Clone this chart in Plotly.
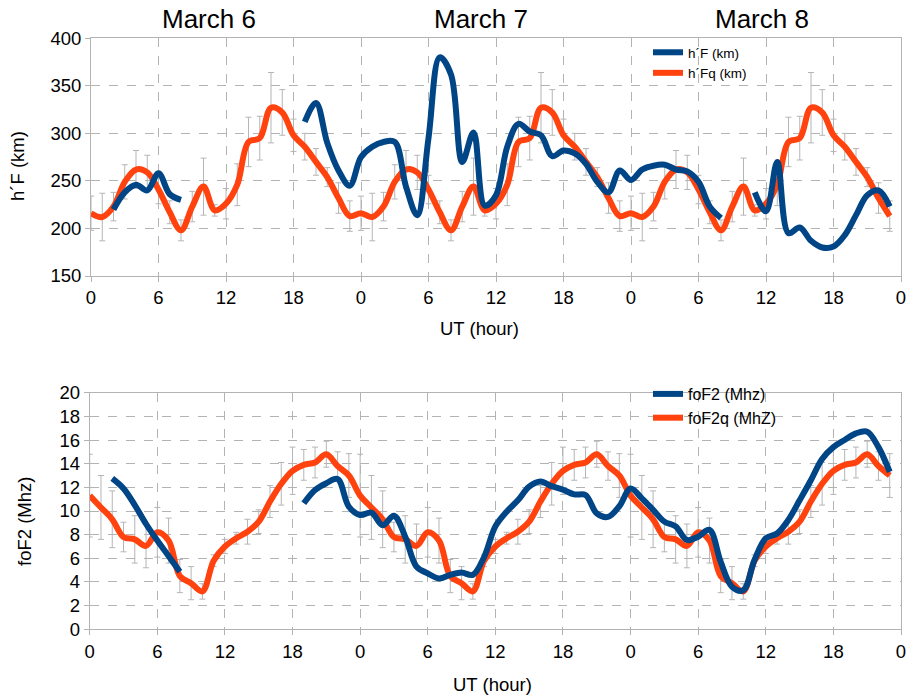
import plotly.graph_objects as go

# ---------------- data ----------------
hours = list(range(72))
tick_vals = list(range(0, 73, 6))
tick_text = ["0", "6", "12", "18"] * 3 + ["0"]
day_titles = ["March 6", "March 7", "March 8"]

# quiet-day reference (one day, repeated for each of the 3 days)
hFq_day = [216, 212, 223, 249, 262, 259, 241, 217, 198, 223, 244, 219,
           226, 246, 291, 295, 327, 322, 298, 286, 270, 254, 232, 213]
hFq_err_day = [18, 25, 15, 18, 20, 18, 15, 12, 11, 16, 30, 6,
               16, 22, 26, 23, 37, 24, 17, 14, 14, 10, 16, 16]
foF2q_day = [11.3, 10.3, 9.3, 7.8, 7.6, 7.05, 8.2, 7.5, 4.5, 3.9, 3.2, 5.8,
             7.0, 7.7, 8.25, 9.1, 10.8, 12.3, 13.4, 13.9, 14.1, 14.8, 13.8, 13.0]
foF2q_err_day = [3.5, 2.7, 2.4, 1.25, 2.0, 1.85, 2.1, 1.9, 1.4, 1.4, 0.65, 0.5,
                 0.6, 0.5, 1.05, 1.0, 1.35, 1.8, 2.0, 1.3, 1.3, 1.1, 1.2, 1.85]

hFq = hFq_day * 3
hFq_err = hFq_err_day * 3
foF2q = foF2q_day * 3
foF2q_err = foF2q_err_day * 3

N = None
hF = [N, N, 220, 238, 246, 240, 258, 236, 230, N, N, N,
      N, N, N, N, N, N, N, 312, 332, 290, 261, 245,
      275, 286, 291, 291, 244, 214, 295, 380, 362, 270, 301, 224,
      235, 286, 310, 302, 298, 276, 282, 279, 268, 249, 238, 261,
      251, 262, 266, 267, 262, 260, 249, 223, 211, N, N, 238,
      218, 270, 195, 201, 187, 180, 181, 193, 214, 235, 240, 223]

foF2 = [N, N, 12.75, 11.9, 10.5, 8.9, 7.5, 6.2, 4.87, N, N, N,
        N, N, N, N, N, N, N, 10.65, 11.77, 12.35, 12.7, 10.36,
        9.66, 9.86, 8.8, 9.6, 7.83, 5.3, 4.73, 4.3, 4.6, 4.8, 4.6, 6.1,
        8.7, 9.94, 10.9, 12.06, 12.5, 12.1, 11.8, 11.4, 11.35, 9.8, 9.5, 10.4,
        11.9, 11.07, 10.1, 9.1, 8.7, 7.55, 7.83, 8.4, 5.7, 3.6, 3.3, 5.86,
        7.7, 8.1, 9.24, 10.9, 12.6, 14.4, 15.4, 16.0, 16.56, 16.7, 15.4, 13.3]

# ---------------- style ----------------
W, H = 910, 696
BLUE = "#004586"
ORANGE = "#ff420e"
GRID = "#b3b3b3"
ERR = "#b5b5b5"
FONT = "Liberation Sans, Arial, sans-serif"
LW = 6

fig = go.Figure()

# top panel
fig.add_trace(go.Scatter(
    x=hours, y=hFq, name="h´Fq (km)", mode="lines",
    line=dict(color=ORANGE, width=LW, shape="spline", smoothing=1),
    error_y=dict(type="data", array=hFq_err, visible=True,
                 color=ERR, thickness=1, width=3),
    xaxis="x", yaxis="y", legend="legend", legendrank=2))
fig.add_trace(go.Scatter(
    x=hours, y=hF, name="h´F (km)", mode="lines", connectgaps=False,
    line=dict(color=BLUE, width=LW, shape="spline", smoothing=1),
    xaxis="x", yaxis="y", legend="legend", legendrank=1))

# bottom panel
fig.add_trace(go.Scatter(
    x=hours, y=foF2q, name="foF2q (MhZ)", mode="lines",
    line=dict(color=ORANGE, width=LW, shape="spline", smoothing=1),
    error_y=dict(type="data", array=foF2q_err, visible=True,
                 color=ERR, thickness=1, width=3),
    xaxis="x2", yaxis="y2", legend="legend2", legendrank=2))
fig.add_trace(go.Scatter(
    x=hours, y=foF2, name="foF2 (Mhz)", mode="lines", connectgaps=False,
    line=dict(color=BLUE, width=LW, shape="spline", smoothing=1),
    xaxis="x2", yaxis="y2", legend="legend2", legendrank=1))

def px_x(p):
    return p / W

def px_y(p):
    return 1 - p / H

axis_common = dict(
    showline=True, linecolor=GRID, linewidth=1, mirror=True,
    showgrid=True, gridcolor=GRID, griddash="dash", gridwidth=1,
    ticks="outside", ticklen=5, tickcolor=GRID,
    tickfont=dict(family=FONT, size=18.5, color="black"),
    zeroline=False, automargin=False,
)

fig.update_layout(
    width=W, height=H,
    margin=dict(l=0, r=0, t=0, b=0, autoexpand=False),
    paper_bgcolor="white", plot_bgcolor="white",
    font=dict(family=FONT, color="black"),
    xaxis=dict(domain=[px_x(91), px_x(901)], range=[0, 72],
               tickvals=tick_vals, ticktext=tick_text, anchor="y",
               **axis_common),
    yaxis=dict(domain=[px_y(276), px_y(38.3)], range=[150, 400],
               dtick=50, anchor="x", **axis_common),
    xaxis2=dict(domain=[px_x(89.7), px_x(901)], range=[0, 72],
                tickvals=tick_vals, ticktext=tick_text, anchor="y2",
                **axis_common),
    yaxis2=dict(domain=[px_y(629.3), px_y(392.7)], range=[0, 20],
                dtick=2, anchor="x2", **axis_common),
    legend=dict(x=px_x(648), y=px_y(37), xanchor="left", yanchor="top",
                bgcolor="rgba(0,0,0,0)", itemwidth=30,
                font=dict(family=FONT, size=13.5, color="black"),
                tracegroupgap=0),
    legend2=dict(x=px_x(648), y=px_y(377), xanchor="left", yanchor="top",
                 bgcolor="rgba(0,0,0,0)", itemwidth=30,
                 font=dict(family=FONT, size=16, color="black"),
                 tracegroupgap=0),
    showlegend=True,
)

annots = []
for txt, cx in zip(day_titles, [209, 481, 762]):
    annots.append(dict(text=txt, x=px_x(cx), y=px_y(19), xref="paper", yref="paper",
                       showarrow=False, xanchor="center", yanchor="middle",
                       font=dict(family=FONT, size=26, color="black")))
annots.append(dict(text="h´F (km)", x=px_x(17), y=px_y(166), xref="paper", yref="paper",
                   showarrow=False, textangle=-90, xanchor="center", yanchor="middle",
                   font=dict(family=FONT, size=18.5, color="black")))
annots.append(dict(text="UT (hour)", x=px_x(479), y=px_y(329), xref="paper", yref="paper",
                   showarrow=False, xanchor="center", yanchor="middle",
                   font=dict(family=FONT, size=18.5, color="black")))
annots.append(dict(text="foF2 (Mhz)", x=px_x(24), y=px_y(522), xref="paper", yref="paper",
                   showarrow=False, textangle=-90, xanchor="center", yanchor="middle",
                   font=dict(family=FONT, size=18.5, color="black")))
annots.append(dict(text="UT (hour)", x=px_x(493), y=px_y(684), xref="paper", yref="paper",
                   showarrow=False, xanchor="center", yanchor="middle",
                   font=dict(family=FONT, size=18.5, color="black")))
fig.update_layout(annotations=annots)

fig.write_html("out.html")
